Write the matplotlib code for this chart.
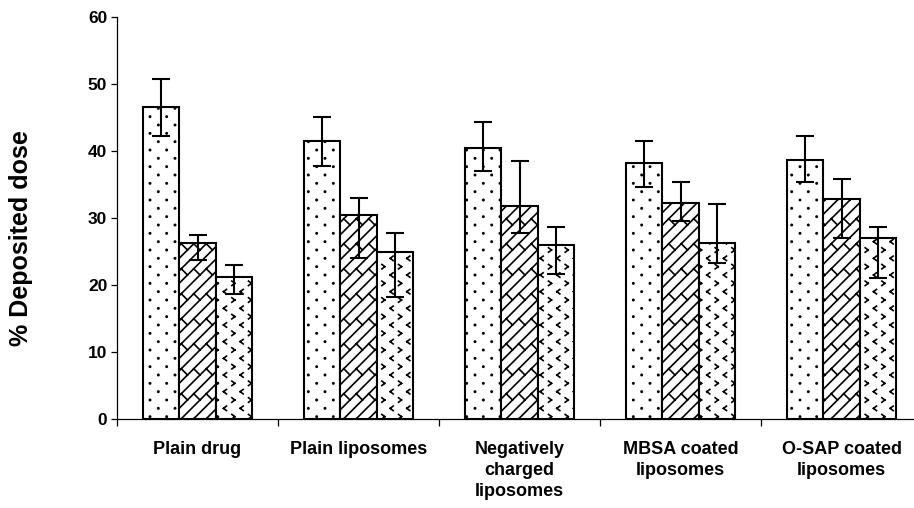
import numpy as np
import matplotlib
matplotlib.use("Agg")
import matplotlib.pyplot as plt
from matplotlib import hatch as mhatch
from matplotlib.path import Path

# --- data ---
categories = ["Plain drug", "Plain liposomes", "Negatively\ncharged\nliposomes",
              "MBSA coated\nliposomes", "O-SAP coated\nliposomes"]

dots_mean = [46.5, 41.5, 40.5, 38.2, 38.7]
dots_up = [4.2, 3.6, 3.8, 3.3, 3.5]
dots_down = [4.2, 3.8, 3.5, 3.5, 3.4]

brick_mean = [26.3, 30.5, 31.8, 32.3, 32.9]
brick_up = [1.1, 2.5, 6.7, 3.1, 2.9]
brick_down = [2.6, 6.5, 4.1, 2.7, 5.9]

chev_mean = [21.2, 24.9, 25.9, 26.3, 27.0]
chev_up = [1.8, 2.9, 2.7, 5.8, 1.6]
chev_down = [2.6, 6.7, 4.2, 3.0, 6.0]

yticks = [0, 10, 20, 30, 40, 50, 60]


# --- custom hatch patterns (Excel-like fills) ---
class DotFill:
    # sparse staggered dots, triggered by '.'
    rows, cols, r = 12, 6, 0.0065

    def __init__(self, hatch, density):
        self.pts = []
        if '.' in hatch:
            for i in range(self.rows + 1):
                for j in range(-1, self.cols + 1):
                    self.pts.append((j / self.cols + (i % 2) / (2 * self.cols),
                                     i / self.rows))
        self.num_vertices = len(self.pts) * 9

    def set_vertices_and_codes(self, vertices, codes):
        ang = np.linspace(0, 2 * np.pi, 8, endpoint=False)
        for n, (x, y) in enumerate(self.pts):
            k = n * 9
            vertices[k:k + 8, 0] = x + self.r * np.cos(ang)
            vertices[k:k + 8, 1] = y + self.r * np.sin(ang)
            vertices[k + 8] = (x, y)
            codes[k] = Path.MOVETO
            codes[k + 1:k + 8] = Path.LINETO
            codes[k + 8] = Path.CLOSEPOLY


class BrickFill:
    # diagonal brick, triggered by '/'
    n = 8

    def __init__(self, hatch, density):
        self.segs = []
        if '/' in hatch:
            n = self.n
            for k in range(-n, n + 1):
                c = k / n
                self.segs.append(((0, c), (1, 1 + c)))
                # short cross pieces, every other step, staggered row to row
                for j in range(-2, n + 2, 2):
                    x0 = (j + k % 2) / n
                    self.segs.append(((x0, x0 + c),
                                      (x0 - 1 / (2 * n), x0 + c + 1 / (2 * n))))
        self.num_vertices = len(self.segs) * 2

    def set_vertices_and_codes(self, vertices, codes):
        for i, (a, b) in enumerate(self.segs):
            vertices[2 * i] = a
            vertices[2 * i + 1] = b
            codes[2 * i] = Path.MOVETO
            codes[2 * i + 1] = Path.LINETO


class ChevronFill:
    # rows of > and < marks, triggered by 'o'
    rows, cols, w, h = 12, 6, 0.03, 0.045

    def __init__(self, hatch, density):
        self.segs = []
        if 'o' in hatch:
            for i in range(self.rows + 1):
                s = 1 if i % 2 == 0 else -1
                for j in range(-1, self.cols + 1):
                    x = j / self.cols + (i % 2) / (2 * self.cols)
                    y = i / self.rows
                    tip = (x + s * self.w / 2, y)
                    self.segs.append(((x - s * self.w / 2, y + self.h / 2), tip))
                    self.segs.append((tip, (x - s * self.w / 2, y - self.h / 2)))
        self.num_vertices = len(self.segs) * 2

    set_vertices_and_codes = BrickFill.set_vertices_and_codes


mhatch._hatch_types = [DotFill, BrickFill, ChevronFill]

plt.rcParams['font.family'] = ['Liberation Sans', 'DejaVu Sans']
plt.rcParams['font.weight'] = 'bold'
plt.rcParams['hatch.linewidth'] = 1.2
plt.rcParams['hatch.color'] = 'black'

fig = plt.figure(figsize=(9.14, 5.08), dpi=100)
ax = fig.add_axes([117 / 914, 89 / 508, 805 / 914, 402 / 508])

x = np.arange(len(categories))
w = 0.225
series = [
    (dots_mean, dots_down, dots_up, '.'),
    (brick_mean, brick_down, brick_up, '/'),
    (chev_mean, chev_down, chev_up, 'o'),
]
for i, (m, lo, hi, h) in enumerate(series):
    pos = x + (i - 1) * w
    ax.bar(pos, m, width=w, color='white', edgecolor='black', linewidth=1.5,
           hatch=h, zorder=2)
    ax.errorbar(pos, m, yerr=[lo, hi], fmt='none', ecolor='black',
                elinewidth=1.5, capsize=6.5, capthick=1.5, zorder=3)

ax.set_xlim(-0.5, 4.5)
ax.set_ylim(0, 60)
ax.set_yticks(yticks)
ax.tick_params(axis='y', direction='out', length=4, width=0.9, pad=3,
               labelsize=12.5)

ax.set_xticks(np.arange(-0.5, 5, 1))
ax.set_xticklabels([])
ax.set_xticks(x, minor=True)
ax.set_xticklabels(categories, minor=True, fontsize=13, linespacing=1.3)
ax.tick_params(axis='x', which='major', direction='out', length=5, width=0.9)
ax.tick_params(axis='x', which='minor', length=0, pad=16)

for s in ['top', 'right']:
    ax.spines[s].set_visible(False)
for s in ['left', 'bottom']:
    ax.spines[s].set_linewidth(0.9)

ax.set_ylabel("% Deposited dose", fontsize=18, fontweight='bold')
ax.yaxis.set_label_coords(-0.104, 0.45)

fig.savefig("out.png", dpi=100)
